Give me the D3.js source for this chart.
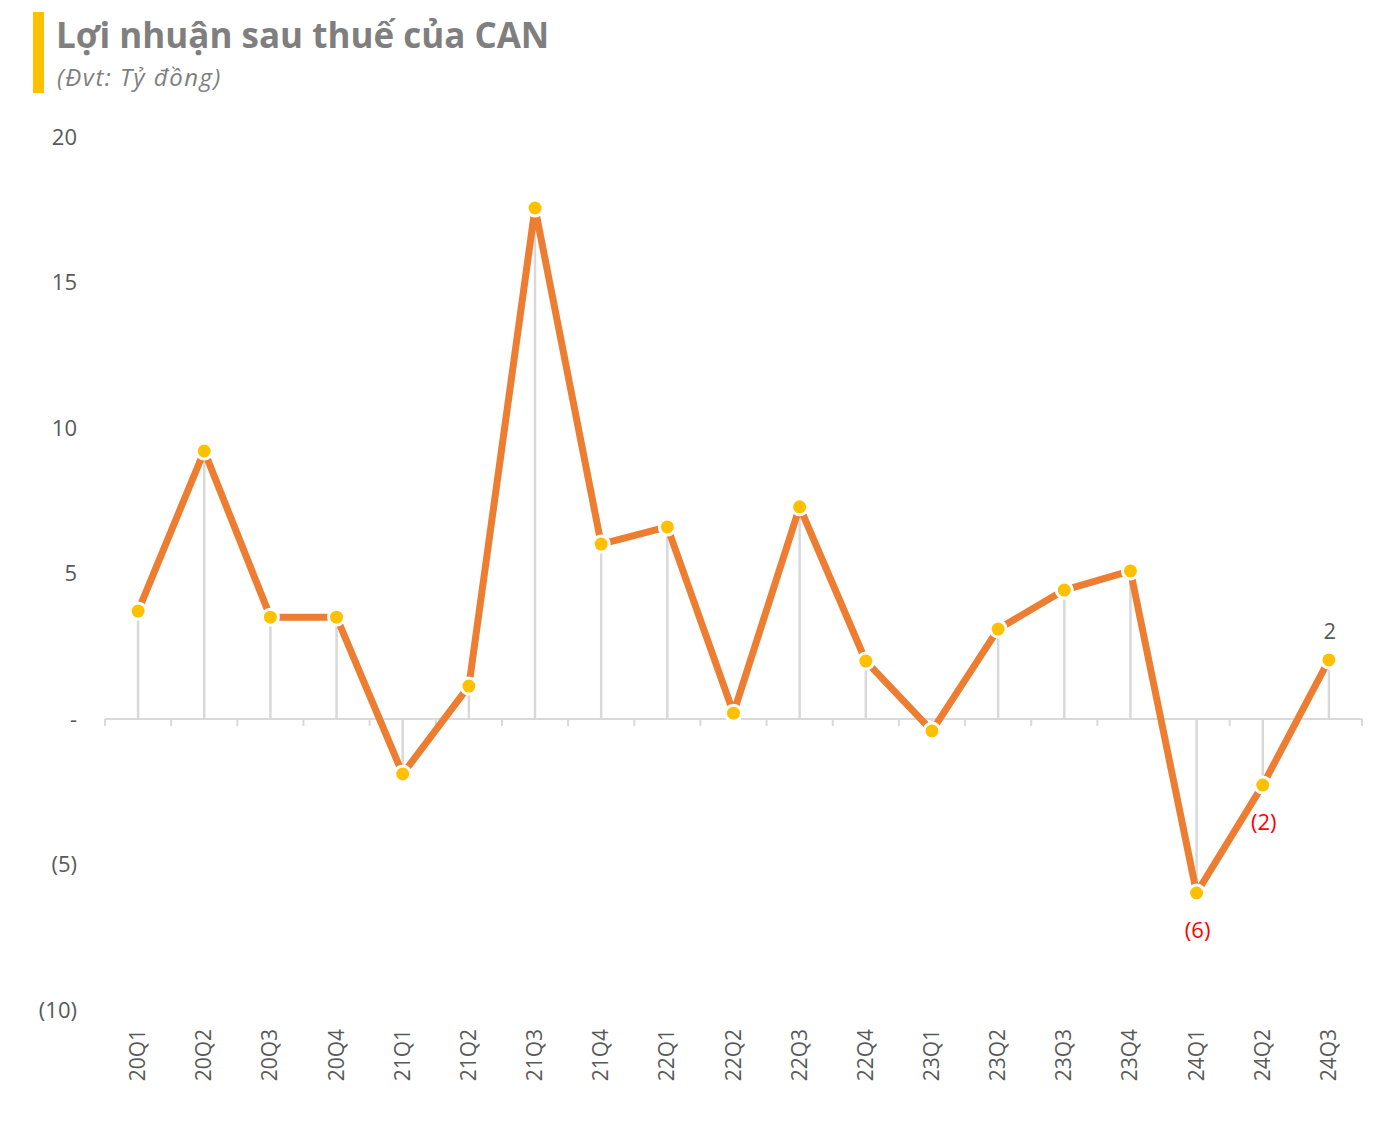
<!DOCTYPE html>
<html><head><meta charset="utf-8">
<script src="https://cdn.jsdelivr.net/npm/d3@7"></script>
<style>body{margin:0;background:#fff;} svg{display:block;}</style>
</head><body>
<svg id="c" width="1384" height="1135"></svg>
<script>
const categories = ["20Q1","20Q2","20Q3","20Q4","21Q1","21Q2","21Q3","21Q4","22Q1","22Q2","22Q3","22Q4","23Q1","23Q2","23Q3","23Q4","24Q1","24Q2","24Q3"];
const profit = [3.71,9.21,3.5,3.5,-1.89,1.13,17.56,6.01,6.6,0.2,7.29,1.99,-0.41,3.09,4.43,5.09,-5.98,-2.27,2.03];
const yTicks = [-10,-5,0,5,10,15,20];
const yTickLabels = ["(10)","(5)","-","5","10","15","20"];
const labelled = {"24Q1":"(6)","24Q2":"(2)","24Q3":"2"};

const svg = d3.select("#c");
const font = "'Open Sans', 'Noto Sans', sans-serif";

// header
svg.append("rect").attr("x",33).attr("y",12).attr("width",11).attr("height",81).attr("fill","#FFC000");
svg.append("text").attr("x",56).attr("y",48).attr("font-family",font).attr("font-weight",700)
  .attr("font-size",35).attr("fill","#7f7f7f").text("Lợi nhuận sau thuế của CAN");
svg.append("text").attr("x",57).attr("y",86).attr("font-family",font).attr("font-style","italic")
  .attr("font-size",24).attr("letter-spacing",1.5).attr("fill","#7f7f7f").text("(Đvt: Tỷ đồng)");

const x = d3.scaleBand().domain(categories).range([105,1362]);
const y = d3.scaleLinear().domain([-10,20]).range([1010,137]);
const cx = d => x(d) + x.bandwidth()/2;

// y labels
yTicks.forEach((t,i)=>{
  svg.append("text").attr("x",77).attr("y",y(t)).attr("dy","0.35em").attr("text-anchor","end")
    .attr("font-family",font).attr("font-size",22).attr("fill","#595959").text(yTickLabels[i]);
});

// drop lines
svg.append("g").selectAll("line").data(categories).join("line")
  .attr("x1",d=>cx(d)).attr("x2",d=>cx(d))
  .attr("y1",(d,i)=>y(profit[i])).attr("y2",y(0))
  .attr("stroke","#d9d9d9").attr("stroke-width",2.5);

// axis
const axis = svg.append("g");
axis.append("line").attr("x1",105).attr("x2",1362).attr("y1",y(0)).attr("y2",y(0))
  .attr("stroke","#d9d9d9").attr("stroke-width",2);
const bounds = categories.map(c=>x(c)).concat([x(categories[categories.length-1])+x.bandwidth()]);
axis.selectAll("line.t").data(bounds).join("line").attr("class","t")
  .attr("x1",d=>d).attr("x2",d=>d).attr("y1",y(0)).attr("y2",y(0)+7)
  .attr("stroke","#d9d9d9").attr("stroke-width",2);

// x labels
categories.forEach(c=>{
  svg.append("text").attr("transform",`translate(${cx(c)+7},1029) rotate(-90)`)
    .attr("text-anchor","end").attr("font-family",font).attr("font-size",21).attr("fill","#595959").text(c);
});

// line
const line = d3.line().x((d,i)=>cx(categories[i])).y(d=>y(d));
svg.append("path").datum(profit).attr("d",line).attr("fill","none")
  .attr("stroke","#ED7D31").attr("stroke-width",7).attr("stroke-linejoin","round");

// markers
svg.append("g").selectAll("circle").data(profit).join("circle")
  .attr("cx",(d,i)=>cx(categories[i])).attr("cy",d=>y(d)).attr("r",8)
  .attr("fill","#FFC000").attr("stroke","#fff").attr("stroke-width",3);

// data labels
categories.forEach((c,i)=>{
  if(!labelled[c]) return;
  const v = profit[i];
  const neg = v<0;
  svg.append("text").attr("x",cx(c)+1).attr("y",neg? y(v)+45 : y(v)-21)
    .attr("text-anchor","middle").attr("font-family",font).attr("font-size",22)
    .attr("fill",neg?"#FF0000":"#595959").text(labelled[c]);
});
</script>
</body></html>
